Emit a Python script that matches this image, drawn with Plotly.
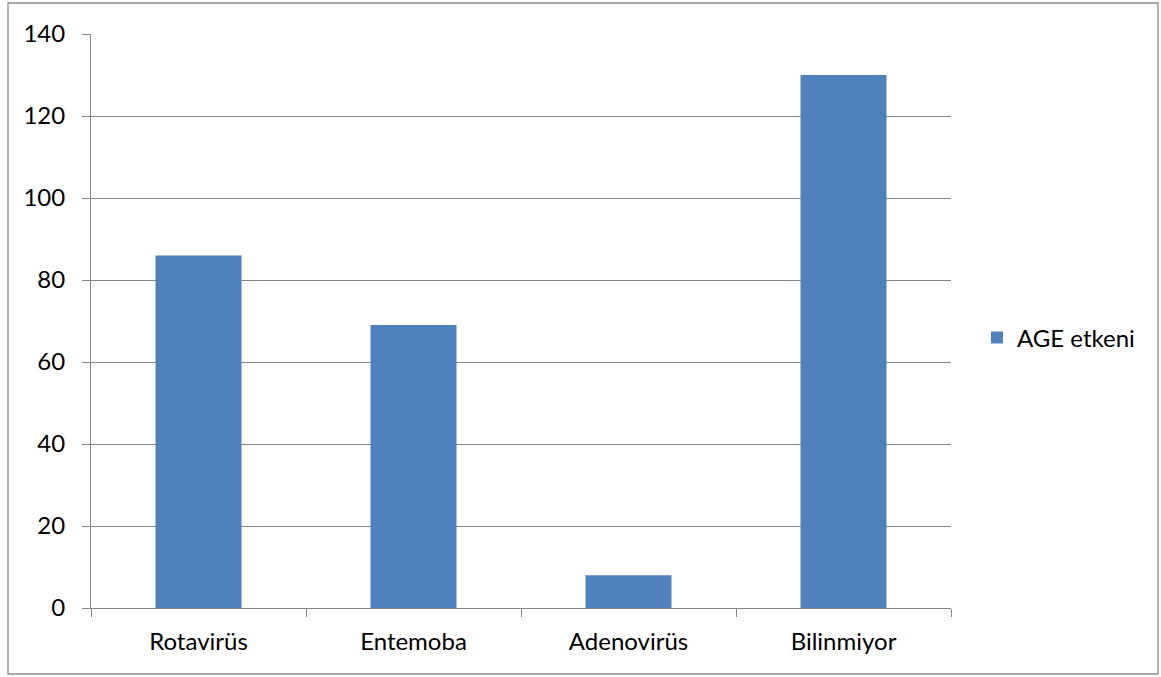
import plotly.graph_objects as go

categories = ["Rotavirüs", "Entemoba", "Adenovirüs", "Bilinmiyor"]
values = [86, 69, 8, 130]
series_name = "AGE etkeni"
y_ticks = [0, 20, 40, 60, 80, 100, 120, 140]

W, H = 1161, 677
L, R, T, B = 91, 951, 34, 608
pw, ph = R - L, B - T

fig = go.Figure()
fig.add_trace(go.Bar(
    x=categories, y=values, name=series_name,
    marker=dict(color="#4f81bd", line=dict(width=0)),
    showlegend=True,
))

grey = "#868686"
font = dict(family="Lato, Open Sans, sans-serif", size=24, color="#000000")

fig.update_layout(
    width=W, height=H,
    margin=dict(l=L, r=W - R, t=T, b=H - B, pad=0),
    paper_bgcolor="white", plot_bgcolor="white",
    bargap=0.6,
    font=font,
    showlegend=True,
    legend=dict(x=(977 - L) / pw, xanchor="left", y=(B - 338) / ph, yanchor="middle",
                font=font, bgcolor="rgba(0,0,0,0)", itemwidth=30),
    xaxis=dict(
        type="category", showgrid=False, showline=True, linecolor=grey, linewidth=1,
        ticks="outside", tickson="boundaries", ticklen=8, tickcolor=grey, tickwidth=1,
        tickfont=font, ticklabelstandoff=12,
    ),
    yaxis=dict(
        range=[0, 140], tickvals=y_ticks, showgrid=True, gridcolor=grey, gridwidth=1,
        showline=True, linecolor=grey, linewidth=1, zeroline=False,
        ticks="outside", ticklen=8, tickcolor=grey, tickwidth=1,
        tickfont=font, ticklabelstandoff=12,
    ),
    shapes=[dict(
        type="rect", xref="paper", yref="paper",
        x0=(8 - L) / pw, x1=(1158 - L) / pw,
        y0=(B - 674) / ph, y1=(B - 3) / ph,
        line=dict(color="#8c8c8c", width=1.3), fillcolor="rgba(0,0,0,0)", layer="below",
    )],
)

fig.write_html("out.html")
